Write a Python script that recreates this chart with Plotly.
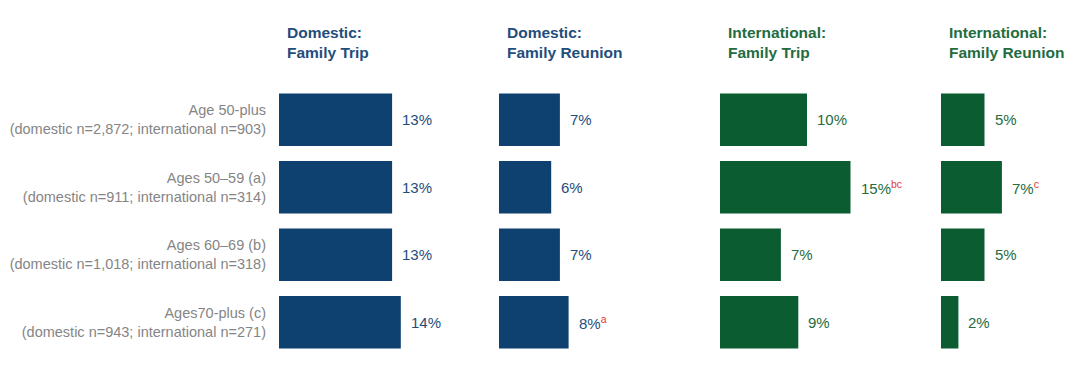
import plotly.graph_objects as go

categories = [
    "Age 50-plus<br>(domestic n=2,872; international n=903)",
    "Ages 50\u201359 (a)<br>(domestic n=911; international n=314)",
    "Ages 60\u201369 (b)<br>(domestic n=1,018; international n=318)",
    "Ages70-plus (c)<br>(domestic n=943; international n=271)",
]
panel_titles = ["Domestic:<br>Family Trip", "Domestic:<br>Family Reunion",
                "International:<br>Family Trip", "International:<br>Family Reunion"]
dom_trip = [13, 13, 13, 14]
dom_reunion = [7, 6, 7, 8]
int_trip = [10, 15, 7, 9]
int_reunion = [5, 7, 5, 2]
dom_trip_sig = ["", "", "", ""]
dom_reunion_sig = ["", "", "", "a"]
int_trip_sig = ["", "bc", "", ""]
int_reunion_sig = ["", "c", "", ""]

series = [dom_trip, dom_reunion, int_trip, int_reunion]
sigs = [dom_trip_sig, dom_reunion_sig, int_trip_sig, int_reunion_sig]

W, H = 1080, 372
ML, MR, MT, MB = 0, 0, 86, 16
bar_colors = ["#0f4170", "#0f4170", "#0b5c30", "#0b5c30"]
text_colors = ["#1f4d7c", "#1f4d7c", "#236c41", "#236c41"]
panel_starts = [279, 499, 720, 941]
panel_w = 135
px_per_pct = 8.7

fig = go.Figure()
annotations = []
for i, (vals, sg) in enumerate(zip(series, sigs)):
    ax = "x" if i == 0 else f"x{i+1}"
    fig.add_trace(go.Bar(
        x=vals, y=categories, orientation="h",
        marker=dict(color=bar_colors[i], line=dict(width=0)),
        width=0.78, xaxis=ax, yaxis="y", showlegend=False,
        hoverinfo="skip",
    ))
    for v, c, s in zip(vals, categories, sg):
        txt = f"{v}%"
        if s:
            txt += f"<sup><span style='color:#e53935'>{s}</span></sup>"
        annotations.append(dict(
            x=v, y=c, xref=ax, yref="y", text=txt, showarrow=False,
            xanchor="left", yanchor="middle", xshift=8,
            font=dict(family="Liberation Sans, Arial", size=15, color=text_colors[i]),
        ))
    x0 = panel_starts[i] / W
    x1 = (panel_starts[i] + panel_w) / W
    layout_key = "xaxis" if i == 0 else f"xaxis{i+1}"
    fig.update_layout({layout_key: dict(
        domain=[x0, x1], range=[0, panel_w / px_per_pct], anchor="y",
        visible=False, showgrid=False, zeroline=False, fixedrange=True,
    )})
    plot_h = H - MT - MB
    annotations.append(dict(
        x=(panel_starts[i] + 6) / W, y=(H - MB - 22) / plot_h,
        xref="paper", yref="paper", text=f"<b>{panel_titles[i]}</b>",
        showarrow=False, xanchor="left", yanchor="top", align="left",
        font=dict(family="Liberation Sans, Arial", size=15.5, color=text_colors[i]),
    ))

fig.update_layout(
    width=W, height=H,
    margin=dict(l=ML, r=MR, t=MT, b=MB),
    paper_bgcolor="white", plot_bgcolor="white",
    yaxis=dict(
        categoryorder="array", categoryarray=categories,
        autorange=False, range=[3.5, -0.5],
        showgrid=False, zeroline=False, showline=False, ticks="",
        ticklabelstandoff=12,
        tickfont=dict(family="Liberation Sans, Arial", size=14.5, color="#858585"),
        fixedrange=True,
    ),
    annotations=annotations,
    bargap=0.22,
)

fig.write_html("out.html", config={"displayModeBar": False},
               post_script="document.body.style.margin='0px';")
